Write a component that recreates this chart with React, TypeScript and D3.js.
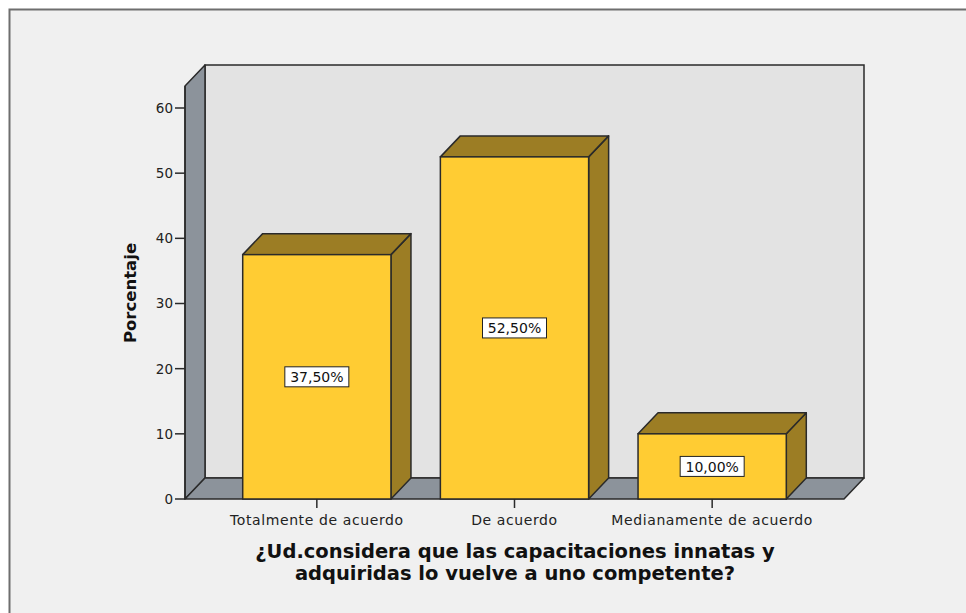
import React from "react";
import * as d3 from "d3";

const categories = ["Totalmente de acuerdo", "De acuerdo", "Medianamente de acuerdo"];
const percentages = [37.5, 52.5, 10.0];
const valueLabels = ["37,50%", "52,50%", "10,00%"];
const yTicks = [0, 10, 20, 30, 40, 50, 60];
const yTitle = "Porcentaje";
const xTitleLines = ["¿Ud.considera que las capacitaciones innatas y", "adquiridas lo vuelve a uno competente?"];

const W = 966;
const H = 613;
const DX = 20;
const DY = 21;
const FONT = "'DejaVu Sans', Verdana, sans-serif";

export default function App() {
  const y = d3.scaleLinear().domain([0, 60]).range([499, 108]);
  const x = d3
    .scaleBand<string>()
    .domain(categories)
    .range([218, 811])
    .paddingInner(0.25)
    .paddingOuter(0.125);

  const floorY = y(0);
  const frontLeft = 185;
  const frontRight = 844;
  const wallTop = 86;

  const stroke = "#2a2a2a";
  const front = "#ffcc33";
  const dark = "#9c7d24";
  const wallGray = "#8c939b";
  const backWall = "#e3e3e3";

  return (
    <svg
      width={W}
      height={H}
      style={{ position: "absolute", left: 0, top: 0, display: "block" }}
      fontFamily={FONT}
    >
      <rect x={0} y={0} width={W} height={H} fill="#ffffff" />
      <rect x={9.5} y={9.5} width={1000} height={700} fill="#f0f0f0" stroke="#6e6e6e" strokeWidth={2} />

      {/* back wall */}
      <rect
        x={frontLeft + DX}
        y={wallTop - DY}
        width={frontRight - frontLeft}
        height={floorY - wallTop}
        fill={backWall}
        stroke={stroke}
        strokeWidth={1.5}
      />
      {/* left wall */}
      <polygon
        points={`${frontLeft},${wallTop} ${frontLeft + DX},${wallTop - DY} ${frontLeft + DX},${floorY - DY} ${frontLeft},${floorY}`}
        fill={wallGray}
        stroke={stroke}
        strokeWidth={1.5}
        strokeLinejoin="round"
      />
      {/* floor */}
      <polygon
        points={`${frontLeft},${floorY} ${frontLeft + DX},${floorY - DY} ${frontRight + DX},${floorY - DY} ${frontRight},${floorY}`}
        fill={wallGray}
        stroke={stroke}
        strokeWidth={1.5}
        strokeLinejoin="round"
      />

      {/* y ticks */}
      {yTicks.map((t) => (
        <g key={t}>
          <line x1={frontLeft - 10} x2={frontLeft} y1={y(t)} y2={y(t)} stroke={stroke} strokeWidth={1.5} />
          <text x={frontLeft - 12} y={y(t)} dy="0.36em" textAnchor="end" fontSize={13.5} fill="#222">
            {t}
          </text>
        </g>
      ))}
      <line x1={frontLeft} x2={frontLeft} y1={wallTop} y2={floorY} stroke={stroke} strokeWidth={1.5} />

      {/* bars */}
      {categories.map((c, i) => {
        const x0 = x(c) as number;
        const x1 = x0 + x.bandwidth();
        const yt = y(percentages[i]);
        const cx = x0 + x.bandwidth() / 2;
        const cy = (yt + floorY) / 2;
        const lw = 64;
        return (
          <g key={c}>
            <polygon
              points={`${x1},${yt} ${x1 + DX},${yt - DY} ${x1 + DX},${floorY - DY} ${x1},${floorY}`}
              fill={dark}
              stroke={stroke}
              strokeWidth={1.5}
              strokeLinejoin="round"
            />
            <polygon
              points={`${x0},${yt} ${x0 + DX},${yt - DY} ${x1 + DX},${yt - DY} ${x1},${yt}`}
              fill={dark}
              stroke={stroke}
              strokeWidth={1.5}
              strokeLinejoin="round"
            />
            <rect x={x0} y={yt} width={x1 - x0} height={floorY - yt} fill={front} stroke={stroke} strokeWidth={1.5} />
            <rect x={cx - lw / 2} y={cy - 10} width={lw} height={20} fill="#ffffff" stroke="#222" strokeWidth={1} />
            <text x={cx} y={cy} dy="0.37em" textAnchor="middle" fontSize={14} fill="#111">
              {valueLabels[i]}
            </text>
            <line x1={cx} x2={cx} y1={floorY} y2={floorY + 9} stroke={stroke} strokeWidth={1.5} />
            <text x={cx} y={floorY + 26} textAnchor="middle" fontSize={14} letterSpacing={0.6} fill="#222">
              {c}
            </text>
          </g>
        );
      })}

      {/* y title */}
      <text
        transform={`translate(136, 293) rotate(-90)`}
        textAnchor="middle"
        fontSize={16.5}
        fontWeight="bold"
        fill="#111"
      >
        {yTitle}
      </text>

      {/* x title */}
      {xTitleLines.map((l, i) => (
        <text key={i} x={515} y={558 + i * 22} textAnchor="middle" fontSize={19.5} fontWeight="bold" fill="#111">
          {l}
        </text>
      ))}
    </svg>
  );
}
